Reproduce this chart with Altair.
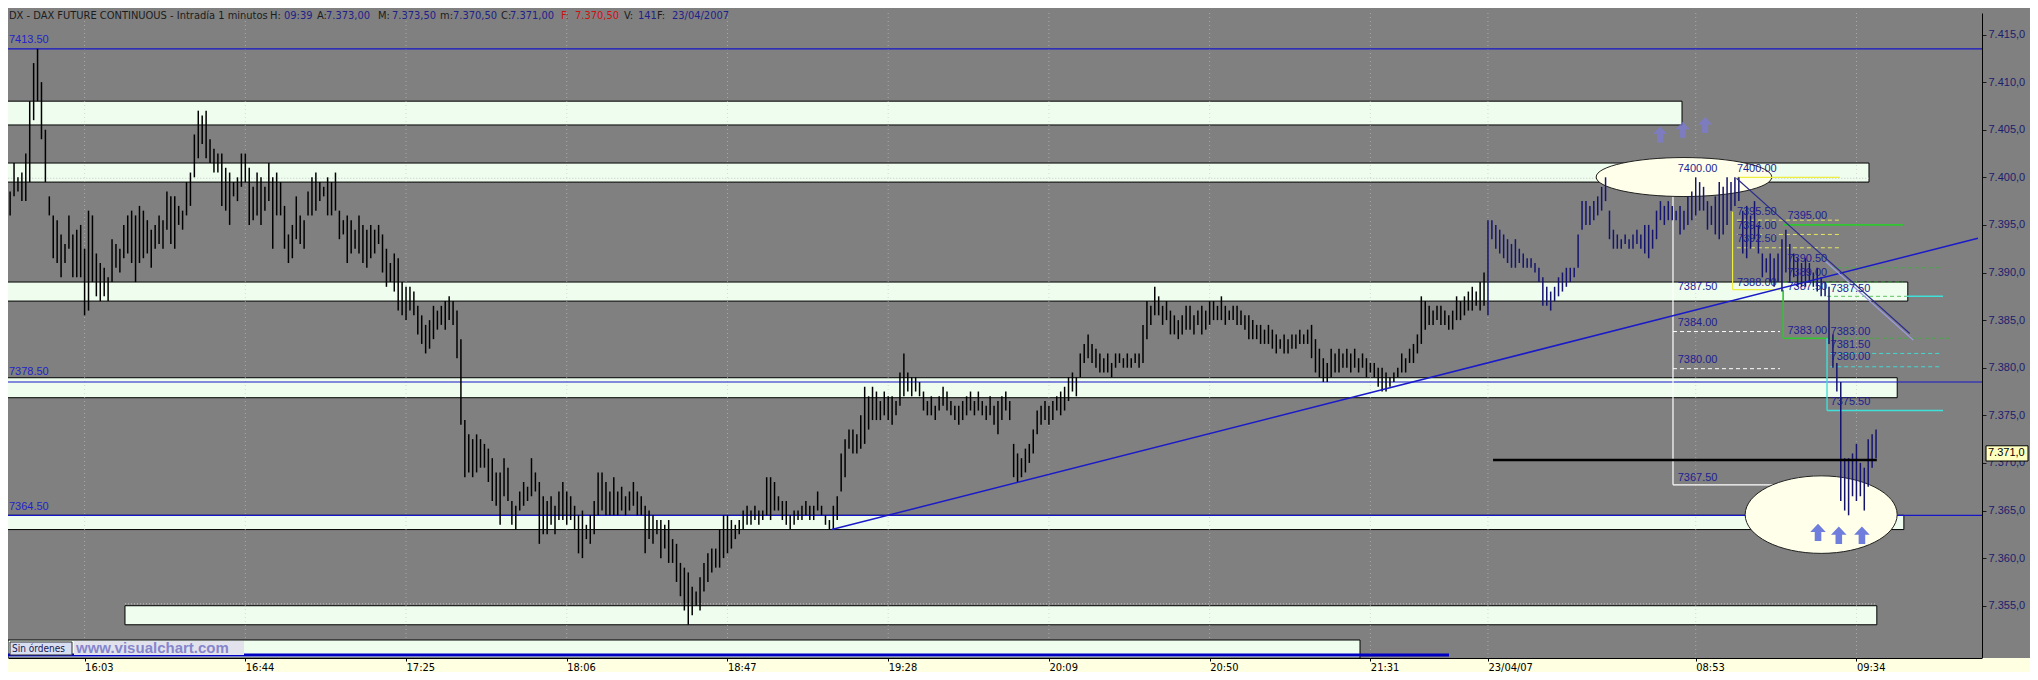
import json
import altair as alt
import pandas as pd

# ---------------------------------------------------------------- data
# bar index: 0 = 16:03 of 20/04/07 (1 bar per minute, sessions joined)
first_bar = -20
day2_first_bar = 358  # 08:00 of 23/04/07

bars_high_low = [
    # -20 .. -11
    (7399.5, 7396.5), (7398.5, 7396.0), (7401.5, 7398.0), (7400.0, 7398.5), (7400.5, 7397.5),
    (7402.5, 7397.5), (7408.0, 7399.5), (7412.0, 7406.0), (7413.5, 7408.0), (7410.0, 7404.0),
    # -10 .. -1
    (7405.0, 7399.5), (7398.0, 7396.0), (7396.0, 7391.5), (7395.5, 7391.0), (7394.0, 7389.5),
    (7393.0, 7391.0), (7396.0, 7392.5), (7394.0, 7389.5), (7394.5, 7389.5), (7395.0, 7389.5),
    # 0 .. 9
    (7392.5, 7385.5), (7396.5, 7386.0), (7396.0, 7389.0), (7392.0, 7387.5), (7391.0, 7387.0),
    (7390.5, 7387.5), (7389.5, 7387.0), (7393.5, 7389.0), (7393.0, 7390.5), (7392.5, 7390.0),
    # 10 .. 19
    (7395.0, 7391.5), (7396.0, 7392.0), (7396.5, 7391.0), (7396.0, 7389.0), (7397.0, 7391.0),
    (7396.5, 7391.5), (7395.5, 7392.0), (7394.5, 7390.5), (7395.0, 7392.5), (7396.0, 7393.0),
    # 20 .. 29
    (7395.5, 7392.5), (7398.5, 7394.5), (7398.0, 7393.0), (7398.0, 7392.5), (7397.0, 7395.0),
    (7396.5, 7394.5), (7399.5, 7396.0), (7400.5, 7397.0), (7404.5, 7400.0), (7407.0, 7402.0),
    # 30 .. 39
    (7406.5, 7403.5), (7407.0, 7402.0), (7404.0, 7401.5), (7403.0, 7400.5), (7402.5, 7400.5),
    (7402.5, 7397.0), (7401.0, 7396.5), (7400.5, 7395.0), (7399.5, 7398.0), (7400.0, 7397.5),
    # 40 .. 49
    (7402.5, 7399.0), (7402.5, 7399.5), (7401.0, 7395.0), (7399.0, 7395.5), (7400.5, 7396.0),
    (7400.0, 7395.0), (7399.0, 7396.5), (7401.5, 7397.5), (7400.0, 7392.5), (7400.5, 7396.0),
    # 50 .. 59
    (7399.5, 7396.0), (7397.0, 7392.5), (7394.0, 7391.0), (7395.0, 7391.5), (7398.0, 7393.5),
    (7396.0, 7393.0), (7395.5, 7392.5), (7398.5, 7396.0), (7400.0, 7396.0), (7400.5, 7396.5),
    # 60 .. 69
    (7399.5, 7397.5), (7399.0, 7398.0), (7400.0, 7396.0), (7399.5, 7396.0), (7400.5, 7396.5),
    (7396.5, 7393.5), (7395.5, 7394.0), (7396.0, 7391.0), (7395.5, 7392.0), (7394.5, 7392.5),
    # 70 .. 79
    (7396.0, 7392.0), (7395.0, 7391.0), (7394.5, 7390.5), (7395.0, 7391.5), (7394.5, 7392.0),
    (7395.0, 7393.0), (7394.0, 7390.0), (7392.5, 7388.5), (7391.0, 7389.0), (7392.0, 7388.0),
    # 80 .. 89
    (7391.5, 7386.0), (7389.0, 7385.5), (7388.5, 7385.0), (7388.5, 7386.0), (7388.0, 7385.5),
    (7386.5, 7383.5), (7385.5, 7382.5), (7384.5, 7381.5), (7385.0, 7382.0), (7386.5, 7383.0),
    # 90 .. 99
    (7386.0, 7384.0), (7386.5, 7384.5), (7387.0, 7384.0), (7387.5, 7385.0), (7387.0, 7384.5),
    (7386.0, 7381.0), (7383.0, 7374.0), (7374.5, 7368.5), (7373.0, 7369.0), (7372.5, 7368.5),
    # 100 .. 109
    (7373.0, 7369.0), (7372.5, 7369.5), (7372.0, 7369.5), (7371.5, 7368.0), (7370.5, 7366.0),
    (7369.0, 7365.5), (7369.0, 7363.5), (7370.5, 7366.5), (7369.5, 7366.0), (7366.0, 7363.5),
    # 110 .. 119
    (7365.5, 7363.0), (7367.0, 7365.0), (7368.0, 7365.5), (7367.5, 7366.0), (7370.5, 7366.5),
    (7369.0, 7367.0), (7368.0, 7361.5), (7366.5, 7362.5), (7366.0, 7362.5), (7366.5, 7363.5),
    # 120 .. 129
    (7365.5, 7362.5), (7367.0, 7364.0), (7368.0, 7364.0), (7367.0, 7363.5), (7366.5, 7364.0),
    (7365.5, 7363.0), (7364.5, 7360.5), (7365.0, 7360.0), (7363.5, 7362.0), (7364.5, 7361.5),
    # 130 .. 139
    (7366.0, 7362.5), (7369.0, 7364.5), (7369.0, 7365.0), (7368.0, 7364.5), (7367.0, 7364.5),
    (7368.5, 7364.5), (7367.0, 7364.5), (7367.5, 7365.0), (7366.5, 7364.5), (7367.0, 7365.0),
    # 140 .. 149
    (7368.0, 7365.5), (7367.0, 7364.5), (7366.5, 7364.5), (7365.5, 7360.5), (7365.0, 7362.0),
    (7364.5, 7361.5), (7364.0, 7362.5), (7364.0, 7360.0), (7363.5, 7361.0), (7364.0, 7359.5),
    # 150 .. 159
    (7362.0, 7359.5), (7361.5, 7357.5), (7359.5, 7356.0), (7359.0, 7354.5), (7358.5, 7353.0),
    (7357.0, 7354.0), (7356.5, 7355.0), (7358.0, 7354.5), (7359.5, 7356.5), (7360.5, 7357.5),
    # 160 .. 169
    (7361.0, 7358.5), (7361.0, 7359.0), (7363.0, 7359.0), (7364.5, 7360.0), (7364.5, 7360.5),
    (7364.0, 7361.0), (7363.5, 7362.0), (7364.0, 7362.5), (7365.0, 7363.0), (7365.5, 7363.5),
    # 170 .. 179
    (7365.0, 7363.5), (7365.5, 7364.0), (7365.0, 7363.5), (7365.0, 7364.0), (7368.5, 7364.5),
    (7368.5, 7364.0), (7368.0, 7365.0), (7366.5, 7365.0), (7366.0, 7364.0), (7366.0, 7363.5),
    # 180 .. 189
    (7364.5, 7363.0), (7365.0, 7363.5), (7365.0, 7364.0), (7365.5, 7364.0), (7366.0, 7364.5),
    (7365.5, 7364.0), (7365.5, 7364.0), (7367.0, 7365.0), (7365.5, 7364.5), (7364.5, 7363.5),
    # 190 .. 199
    (7364.0, 7363.0), (7365.5, 7363.0), (7366.5, 7364.0), (7371.0, 7367.0), (7372.5, 7368.5),
    (7373.5, 7371.5), (7373.5, 7371.0), (7373.0, 7371.0), (7375.0, 7371.5), (7378.0, 7372.0),
    # 200 .. 209
    (7377.0, 7373.5), (7378.0, 7374.5), (7377.5, 7374.5), (7376.5, 7374.5), (7377.5, 7375.0),
    (7377.0, 7374.5), (7377.0, 7374.0), (7376.5, 7375.0), (7379.5, 7376.0), (7381.5, 7377.0),
    # 210 .. 219
    (7379.5, 7377.5), (7379.0, 7377.0), (7379.0, 7377.5), (7378.5, 7377.0), (7377.5, 7375.5),
    (7376.5, 7375.0), (7377.0, 7375.0), (7376.0, 7374.5), (7377.0, 7375.5), (7378.0, 7376.0),
    # 220 .. 229
    (7377.5, 7375.5), (7376.5, 7375.0), (7376.0, 7374.5), (7376.0, 7374.0), (7376.5, 7374.5),
    (7377.0, 7375.0), (7377.5, 7375.5), (7376.5, 7375.0), (7377.5, 7375.5), (7376.5, 7375.0),
    # 230 .. 239
    (7376.0, 7374.5), (7377.0, 7375.0), (7376.0, 7374.0), (7376.5, 7373.0), (7377.0, 7374.5),
    (7377.5, 7375.5), (7376.5, 7374.5), (7372.0, 7368.5), (7371.0, 7368.0), (7370.5, 7368.5),
    # 240 .. 249
    (7371.5, 7369.0), (7372.0, 7370.0), (7373.5, 7371.0), (7375.5, 7373.0), (7376.0, 7374.0),
    (7376.5, 7374.5), (7376.0, 7374.0), (7376.5, 7374.5), (7377.0, 7375.5), (7377.5, 7375.0),
    # 250 .. 259
    (7378.0, 7375.5), (7379.0, 7376.5), (7379.5, 7377.5), (7379.0, 7377.0), (7381.5, 7379.0),
    (7382.5, 7380.5), (7383.5, 7381.0), (7382.5, 7380.5), (7382.0, 7380.0), (7381.5, 7379.5),
    # 260 .. 269
    (7381.0, 7379.5), (7381.5, 7379.5), (7380.5, 7379.0), (7381.5, 7380.0), (7381.5, 7380.5),
    (7381.0, 7380.0), (7381.5, 7380.0), (7381.0, 7380.0), (7381.5, 7380.5), (7381.5, 7380.0),
    # 270 .. 279
    (7384.5, 7380.5), (7387.0, 7383.0), (7386.5, 7384.5), (7388.5, 7385.5), (7387.5, 7385.5),
    (7386.5, 7384.5), (7387.0, 7385.0), (7386.0, 7383.5), (7385.5, 7383.5), (7385.0, 7383.0),
    # 280 .. 289
    (7385.5, 7383.5), (7386.5, 7384.0), (7386.5, 7384.0), (7385.5, 7383.5), (7386.0, 7384.5),
    (7386.5, 7383.5), (7386.0, 7384.0), (7387.0, 7384.5), (7387.0, 7385.0), (7386.5, 7385.0),
    # 290 .. 299
    (7387.5, 7385.0), (7386.5, 7384.5), (7386.0, 7385.0), (7386.5, 7385.0), (7386.5, 7384.5),
    (7386.0, 7384.5), (7385.5, 7384.0), (7385.5, 7383.0), (7385.0, 7383.0), (7384.5, 7383.0),
    # 300 .. 309
    (7384.5, 7382.5), (7384.0, 7382.5), (7384.5, 7382.5), (7384.0, 7382.0), (7383.5, 7381.5),
    (7383.0, 7382.0), (7383.5, 7381.5), (7383.0, 7381.5), (7383.5, 7382.0), (7383.5, 7382.0),
    # 310 .. 319
    (7384.0, 7382.5), (7383.5, 7382.5), (7384.0, 7382.5), (7384.5, 7381.0), (7383.0, 7379.5),
    (7382.0, 7379.0), (7381.0, 7378.5), (7380.5, 7378.5), (7382.0, 7379.0), (7381.5, 7379.5),
    # 320 .. 329
    (7382.0, 7379.5), (7381.5, 7380.0), (7382.0, 7380.0), (7381.5, 7379.5), (7382.0, 7380.0),
    (7381.0, 7379.5), (7381.5, 7380.0), (7381.0, 7379.0), (7380.5, 7379.5), (7380.5, 7379.0),
    # 330 .. 339
    (7380.0, 7378.0), (7380.0, 7377.5), (7379.5, 7377.5), (7379.0, 7378.0), (7379.5, 7378.5),
    (7380.0, 7379.0), (7381.5, 7379.5), (7381.0, 7379.5), (7382.0, 7380.5), (7382.5, 7380.5),
    # 340 .. 349
    (7383.5, 7381.5), (7387.5, 7382.5), (7387.0, 7384.0), (7386.5, 7384.5), (7386.0, 7384.5),
    (7386.5, 7385.0), (7386.5, 7384.5), (7386.0, 7384.5), (7385.5, 7384.0), (7386.0, 7384.0),
    # 350 .. 357
    (7387.5, 7385.0), (7387.0, 7385.0), (7387.5, 7385.5), (7388.0, 7386.0), (7388.5, 7386.0),
    (7388.0, 7386.5), (7389.0, 7386.0), (7390.0, 7386.5),
    # 358 .. 367  (23/04/07)
    (7395.5, 7385.5), (7395.5, 7393.5), (7395.0, 7392.5), (7394.5, 7392.0), (7394.0, 7391.5),
    (7393.5, 7391.0), (7393.0, 7390.5), (7393.5, 7390.5), (7392.5, 7391.0), (7392.0, 7390.5),
    # 368 .. 377
    (7391.5, 7390.5), (7391.5, 7390.5), (7391.0, 7390.0), (7390.5, 7389.0), (7389.5, 7386.5),
    (7388.5, 7386.5), (7388.0, 7386.0), (7388.5, 7387.0), (7389.5, 7387.5), (7390.0, 7388.0),
    # 378 .. 387
    (7390.5, 7388.5), (7390.5, 7389.0), (7390.5, 7389.5), (7394.0, 7390.5), (7397.5, 7394.5),
    (7397.5, 7395.0), (7397.0, 7395.0), (7397.5, 7395.5), (7398.0, 7396.0), (7399.0, 7396.5),
    # 388 .. 397
    (7400.0, 7397.5), (7396.5, 7393.5), (7394.5, 7392.5), (7394.0, 7392.5), (7393.5, 7392.5),
    (7394.0, 7393.0), (7393.5, 7392.5), (7394.0, 7392.5), (7394.5, 7393.0), (7394.0, 7392.5),
    # 398 .. 407
    (7395.0, 7392.0), (7395.0, 7391.5), (7394.5, 7392.5), (7396.5, 7393.5), (7397.5, 7395.5),
    (7397.0, 7395.0), (7397.5, 7395.5), (7397.0, 7395.5), (7396.5, 7395.5), (7397.0, 7394.0),
    # 408 .. 417
    (7396.5, 7394.5), (7398.0, 7395.0), (7398.5, 7395.5), (7400.0, 7396.0), (7399.5, 7396.5),
    (7399.0, 7396.5), (7397.5, 7394.5), (7397.0, 7395.0), (7398.0, 7394.0), (7399.5, 7393.5),
    # 418 .. 427
    (7399.0, 7394.0), (7400.0, 7395.0), (7399.5, 7396.5), (7400.0, 7397.0), (7400.0, 7397.5),
    (7396.5, 7392.0), (7397.0, 7391.5), (7396.0, 7392.5), (7397.5, 7393.5), (7395.0, 7392.0),
    # 428 .. 437
    (7392.0, 7389.5), (7391.5, 7390.0), (7392.0, 7389.0), (7391.5, 7388.5), (7392.0, 7389.0),
    (7393.5, 7388.0), (7394.5, 7390.0), (7393.0, 7389.0), (7392.0, 7389.5), (7391.5, 7388.5),
    # 438 .. 447
    (7391.0, 7388.5), (7391.5, 7388.5), (7391.0, 7389.0), (7390.0, 7388.5), (7390.5, 7388.0),
    (7389.5, 7387.5), (7389.0, 7387.5), (7388.5, 7382.5), (7383.5, 7380.0), (7380.5, 7377.5),
    # 448 .. 457
    (7378.5, 7366.0), (7370.5, 7365.0), (7370.5, 7364.5), (7371.0, 7366.5), (7372.0, 7366.0),
    (7370.0, 7366.5), (7369.5, 7365.0), (7372.5, 7367.5), (7373.0, 7369.5), (7373.5, 7370.5),
]

time_tick_pos = [0, 41, 82, 123, 164, 205, 246, 287, 328, 358, 411, 452]
time_tick_text = ["16:03", "16:44", "17:25", "18:06", "18:47", "19:28", "20:09",
                  "20:50", "21:31", "23/04/07", "08:53", "09:34"]
price_ticks = [7355, 7360, 7365, 7370, 7375, 7380, 7385, 7390, 7395, 7400, 7405, 7410, 7415]

# support / resistance zones
zone_from = [-21.0, -21.0, -21.0, -21.0, -21.0, 10.3]
zone_to = [407.5, 455.2, 465.1, 462.4, 464.1, 457.2]
zone_low = [7405.5, 7399.5, 7387.0, 7376.85, 7363.0, 7353.0]
zone_high = [7408.0, 7401.5, 7389.0, 7378.95, 7364.5, 7355.0]

# blue horizontal levels
level_price = [7413.5, 7378.5, 7364.5]
level_text = ["7413.50", "7378.50", "7364.50"]
level_text_price = [7414.4, 7379.5, 7365.4]
level_text_bar = -19.3

dotted_levels = [(-21.0, 7399.9, 455.2, 7399.9), (10.3, 7355.2, 457.2, 7355.2)]

trend_line = [(190.6, 7363.0, 483.0, 7393.6)]
down_line = [(421.4, 7399.9, 465.6, 7383.6)]
down_line_echo = [(444.0, 7391.2, 466.5, 7382.9)]
close_line = [(359.3, 7370.3, 457.2, 7370.3)]

white_lines = [(405.2, 7400.0, 405.2, 7367.7), (405.2, 7367.7, 449.1, 7367.7)]
white_dashed = [(405.2, 7383.8, 432.5, 7383.8), (405.2, 7379.9, 432.5, 7379.9)]
yellow_lines = [(420.4, 7396.4, 420.4, 7388.2), (420.4, 7388.2, 432.5, 7388.2),
                (421.5, 7400.0, 447.8, 7400.0)]
yellow_dashed = [(421.5, 7395.5, 447.8, 7395.5), (421.5, 7394.0, 447.8, 7394.0),
                 (421.5, 7392.6, 447.8, 7392.6)]
green_lines = [(433.3, 7395.0, 463.9, 7395.0), (433.3, 7388.2, 433.3, 7383.1),
               (433.3, 7383.1, 444.5, 7383.1)]
green_dashed = [(444.5, 7383.1, 475.9, 7383.1), (445.4, 7390.5, 473.3, 7390.5),
                (433.3, 7389.0, 463.9, 7389.0), (444.5, 7387.5, 464.8, 7387.5)]
cyan_lines = [(444.5, 7383.1, 444.5, 7375.5), (444.5, 7375.5, 474.1, 7375.5),
              (464.8, 7387.5, 474.1, 7387.5)]
cyan_dashed = [(445.3, 7381.5, 473.3, 7381.5), (445.3, 7380.1, 473.3, 7380.1)]

fib_text = ["7400.00", "7400.00", "7387.50", "7384.00", "7380.00", "7367.50",
            "7395.50", "7394.00", "7392.50", "7388.00",
            "7395.00", "7390.50", "7389.00", "7387.50", "7383.00",
            "7387.50", "7383.00", "7381.50", "7380.00", "7375.50"]
fib_bar = [406.4, 421.5, 406.4, 406.4, 406.4, 406.4,
           421.5, 421.5, 421.5, 421.5,
           434.4, 434.4, 434.4, 434.4, 434.4,
           445.4, 445.4, 445.4, 445.4, 445.4]
fib_price = [7400.9, 7400.9, 7388.5, 7384.7, 7380.8, 7368.4,
             7396.4, 7394.85, 7393.5, 7388.9,
             7395.9, 7391.4, 7389.95, 7388.5, 7383.9,
             7388.3, 7383.8, 7382.4, 7381.1, 7376.4]

ellipse_top = (408.0, 7400.03)
ellipse_bottom = (443.0, 7364.57)
arrows_top_bar = [401.9, 407.7, 413.4]
arrows_top_price = [7404.5, 7405.0, 7405.5]
arrows_bottom_bar = [442.2, 447.5, 453.4]
arrows_bottom_price = [7362.7, 7362.4, 7362.4]

last_price = 7371.0
last_price_text = "7.371,0"

header_text = ["DX - DAX FUTURE CONTINUOUS - Intradía 1 minutos", "H:", "09:39", "A:", "7.373,00",
               "M:", "7.373,50", "m:", "7.370,50", "C:", "7.371,00", "F:", "7.370,50",
               "V:", "141", "F:", "23/04/2007"]
header_kind = ["l", "l", "v", "l", "v", "l", "v", "l", "v", "l", "v", "r", "r", "l", "v", "l", "v"]

# ---------------------------------------------------------------- layout / style
W, H = 1974, 645
X_DOMAIN = [-19.54, 484.03]
Y_DOMAIN = [7349.51, 7417.26]
HEADER_X = [1, 262, 276, 309, 318, 370, 384, 432, 445, 493, 502, 553, 567, 616, 630, 649, 664]
HEADER_COL = {"l": "#1c1c1c", "v": "#20208a", "r": "#d01010"}
NARROW = "Liberation Sans Narrow, Arial Narrow, DejaVu Sans Condensed, sans-serif"
SANS = "Liberation Sans, Arial, sans-serif"
GRAY = "#808080"

XS = alt.Scale(domain=X_DOMAIN, nice=False, zero=False)
YS = alt.Scale(domain=Y_DOMAIN, nice=False, zero=False)
XAXIS = alt.Axis(
    title=None, orient="bottom", values=time_tick_pos,
    labelExpr=f"{json.dumps(time_tick_text)}[indexof({json.dumps(time_tick_pos)}, datum.value)]",
    labelAlign="left", labelBaseline="top", labelPadding=0, labelFont=NARROW, labelFontSize=11,
    labelColor="#000000", labelFlush=False, labelOverlap=False, tickSize=3, tickColor="#000000",
    domainColor="#000000", grid=False, zindex=1,
)
YAXIS = alt.Axis(
    title=None, orient="right", values=price_ticks,
    labelExpr="replace(replace(replace(format(datum.value, ',.1f'), ',', '#'), '.', ','), '#', '.')",
    labelFont=SANS, labelFontSize=11, labelColor="#1c1c6e", labelPadding=2, labelOverlap=False,
    tickSize=4, tickColor="#1a1a1a", domainColor="#000000", grid=False, zindex=0,
)


def xq(f):
    return alt.X(f"{f}:Q", scale=XS, axis=XAXIS)


def yq(f):
    return alt.Y(f"{f}:Q", scale=YS, axis=YAXIS)


def segments(rows, color, width=1.0, dash=None, opacity=1.0):
    df = pd.DataFrame(rows, columns=["x1", "y1", "x2", "y2"])
    props = dict(color=color, strokeWidth=width, opacity=opacity)
    if dash is not None:
        props["strokeDash"] = dash
    return alt.Chart(df).mark_rule(**props).encode(x=xq("x1"), y=yq("y1"), x2="x2", y2="y2")


one = pd.DataFrame({"k": [0]})


def px_rect(x1, x2, y1, y2, fill, stroke=None, sw=1.0):
    props = dict(fill=fill, strokeWidth=sw)
    if stroke is not None:
        props["stroke"] = stroke
    return alt.Chart(one).mark_rect(**props).encode(
        x=alt.value(x1), x2=alt.value(x2), y=alt.value(y1), y2=alt.value(y2))


def px_rule(x1, x2, y, color, width):
    return alt.Chart(one).mark_rule(color=color, strokeWidth=width).encode(
        x=alt.value(x1), x2=alt.value(x2), y=alt.value(y))


def px_text(txt, x, y, color, size=11, font=SANS, weight="normal"):
    return alt.Chart(one).mark_text(text=txt, align="left", baseline="middle", font=font,
                                    fontSize=size, fontWeight=weight, color=color).encode(
        x=alt.value(x), y=alt.value(y))


def ellipse_path(ratio):
    k = 0.5523
    r = ratio
    return (f"M -1 0 C -1 {-k*r:.4f} {-k} {-r} 0 {-r} C {k} {-r} 1 {-k*r:.4f} 1 0 "
            f"C 1 {k*r:.4f} {k} {r} 0 {r} C {-k} {r} -1 {k*r:.4f} -1 0 Z")


ARROW = "M 0 -1 L 0.9 -0.05 L 0.38 -0.05 L 0.38 1 L -0.38 1 L -0.38 -0.05 L -0.9 -0.05 Z"

# ---------------------------------------------------------------- tables
bars = pd.DataFrame({
    "i": [first_bar + k for k in range(len(bars_high_low))],
    "high": [h for h, _ in bars_high_low],
    "low": [l for _, l in bars_high_low],
})
bars["day"] = ["23/04/07" if i >= day2_first_bar else "20/04/07" for i in bars["i"]]

zones = pd.DataFrame({"x1": zone_from, "x2": zone_to, "lo": zone_low, "hi": zone_high})
levels = pd.DataFrame({"x1": [X_DOMAIN[0]] * len(level_price), "x2": [X_DOMAIN[1]] * len(level_price),
                       "p": level_price})
level_lbl = pd.DataFrame({"i": [level_text_bar] * len(level_text), "p": level_text_price, "t": level_text})
grid = pd.DataFrame({"i": time_tick_pos})
fib = pd.DataFrame({"i": fib_bar, "p": fib_price, "t": fib_text})
ell_top = pd.DataFrame({"i": [ellipse_top[0]], "p": [ellipse_top[1]]})
ell_bot = pd.DataFrame({"i": [ellipse_bottom[0]], "p": [ellipse_bottom[1]]})
arr_top = pd.DataFrame({"i": arrows_top_bar, "p": arrows_top_price})
arr_bot = pd.DataFrame({"i": arrows_bottom_bar, "p": arrows_bottom_price})
last = pd.DataFrame({"p": [last_price], "hi": [last_price + 0.8], "lo": [last_price - 0.8],
                     "t": [last_price_text]})

# ---------------------------------------------------------------- layers
layers = []
layers.append(alt.Chart(zones).mark_rect(fill="#EEFDEE", stroke="#000000", strokeWidth=1, clip=True)
              .encode(x=xq("x1"), x2="x2", y=yq("hi"), y2="lo"))
layers.append(alt.Chart(grid).mark_rule(color="#c4c4c4", strokeDash=[1, 3], opacity=0.6)
              .encode(x=xq("i")))
layers.append(segments(dotted_levels, "#c4c4c4", 1, [1, 2]))
layers.append(alt.Chart(levels).mark_rule(color="#1616c8", strokeWidth=1.2)
              .encode(x=xq("x1"), x2="x2", y=yq("p")))
layers.append(segments(white_lines, "#ffffff", 1.2))
layers.append(segments(white_dashed, "#ffffff", 1, [4, 3]))
layers.append(alt.Chart(ell_top).mark_point(shape=ellipse_path(0.222), size=175.6 ** 2, filled=True,
                                            fill="#FFFFEA", stroke="#202020", strokeWidth=1, opacity=1)
              .encode(x=xq("i"), y=yq("p")))
layers.append(alt.Chart(ell_bot).mark_point(shape=ellipse_path(0.51), size=152.0 ** 2, filled=True,
                                            fill="#FFFFEA", stroke="#202020", strokeWidth=1, opacity=1)
              .encode(x=xq("i"), y=yq("p")))
layers.append(segments(yellow_lines, "#eeee40", 1.2))
layers.append(segments(yellow_dashed, "#e6e660", 1, [4, 3]))
layers.append(segments(green_lines, "#2fc62f", 1.6))
layers.append(segments(green_dashed, "#3cb43c", 1, [4, 3], 0.8))
layers.append(segments(cyan_lines, "#3ee0d8", 1.4))
layers.append(segments(cyan_dashed, "#3ee0d8", 1, [4, 3], 0.9))
layers.append(alt.Chart(bars).mark_rule(strokeWidth=1.5)
              .encode(x=xq("i"), y=yq("high"), y2="low",
                      color=alt.Color("day:N", scale=alt.Scale(domain=["20/04/07", "23/04/07"],
                                                               range=["#000000", "#14146e"]),
                                      legend=None)))
layers.append(segments(trend_line, "#1a1ac8", 1.5))
layers.append(segments(down_line_echo, "#9c9ce4", 1.3))
layers.append(segments(down_line, "#2c2c8c", 1.2))
layers.append(segments(close_line, "#000000", 2.5))
layers.append(alt.Chart(arr_top).mark_point(shape=ARROW, size=260, filled=True, color="#7a7ad8",
                                            opacity=0.7).encode(x=xq("i"), y=yq("p")))
layers.append(alt.Chart(arr_bot).mark_point(shape=ARROW, size=300, filled=True, color="#6f7ddc",
                                            opacity=1).encode(x=xq("i"), y=yq("p")))
layers.append(alt.Chart(level_lbl).mark_text(align="left", baseline="middle", font=SANS, fontSize=11,
                                             color="#2222cc").encode(x=xq("i"), y=yq("p"), text="t:N"))
layers.append(alt.Chart(fib).mark_text(align="left", baseline="middle", font=SANS, fontSize=11,
                                       color="#1e1e92").encode(x=xq("i"), y=yq("p"), text="t:N"))

# bottom "orders" panel
layers.append(px_rect(0, 1352, 627, 645, "#EEFDEE", "#000000", 1))
layers.append(px_rule(0, 1441, 642, "#0000c0", 3))
layers.append(px_rect(2, 64, 629, 642, "#d8def2", "#303030", 1))
layers.append(px_text("Sin órdenes", 4, 635.5, "#18184e", 10, NARROW))
layers.append(px_rect(66, 236, 628, 642, "#e2e2ec"))
layers.append(px_text("www.visualchart.com", 68, 635, "#8686cc", 15, SANS, "bold"))

# light strip under the time axis
layers.append(px_rect(0, 2030, 645, 670, "#FFFFE1"))

# last price box on the price axis
layers.append(alt.Chart(last).mark_rect(fill="#FFFFC0", stroke="#000000", strokeWidth=1)
              .encode(x=alt.value(1978), x2=alt.value(2020), y=yq("hi"), y2="lo"))
layers.append(alt.Chart(last).mark_text(align="left", baseline="middle", font=SANS, fontSize=11,
                                        color="#000000")
              .encode(x=alt.value(1980), y=yq("p"), text="t:N"))

# header line
for txt, kind, hx in zip(header_text, header_kind, HEADER_X):
    layers.append(px_text(txt, hx, 3, HEADER_COL[kind], 11, NARROW))

chart = (
    alt.layer(*layers)
    .properties(width=W, height=H, autosize=alt.AutoSizeParams(type="none"),
                padding={"left": 0, "top": 5, "right": 48, "bottom": 14}, background=GRAY)
    .configure_view(fill=GRAY, stroke=None)
)

chart.save("out.html", embed_options={"renderer": "svg", "actions": False})
